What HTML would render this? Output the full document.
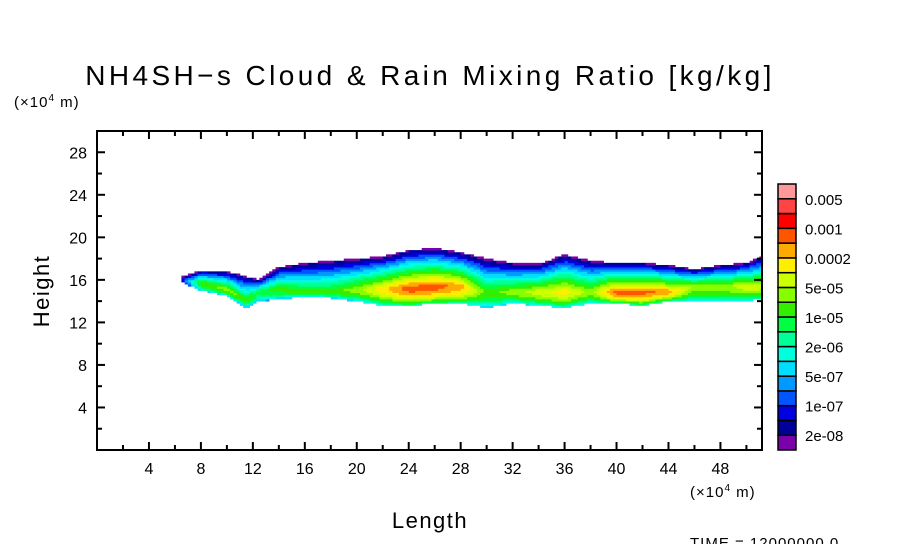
<!DOCTYPE html>
<html><head><meta charset="utf-8"><style>
body{margin:0;background:#fff;}
svg{display:block;font-family:"Liberation Sans",sans-serif;}
</style></head><body>
<svg id="chart" width="904" height="544" viewBox="0 0 904 544">
<rect width="904" height="544" fill="#fff"/>
<text x="430" y="85" font-size="28" letter-spacing="3.4" text-anchor="middle">NH4SH−s Cloud &amp; Rain Mixing Ratio [kg/kg]</text>
<text x="14" y="107" font-size="15" letter-spacing="1">(×10<tspan dy="-6" font-size="10">4</tspan><tspan dy="6"> m)</tspan></text>
<text x="690" y="497" font-size="15" letter-spacing="1">(×10<tspan dy="-6" font-size="10">4</tspan><tspan dy="6"> m)</tspan></text>
<text x="430" y="528" font-size="22" letter-spacing="1.5" text-anchor="middle">Length</text>
<text transform="translate(49,291) rotate(-90)" font-size="22" letter-spacing="1.5" text-anchor="middle">Height</text>
<text x="690" y="548" font-size="15" letter-spacing="1">TIME =  12000000.0</text>
<g id="cells"></g>
<g id="axes"></g>
<g id="cbar"></g>
</svg>
<script>
// Column profile data (x in 10^4 m, heights in 10^4 m)
const colX    = [6.5,8,10,11.5,12.5,14,16,18,20,22,24,26,28,30,32,34,36,38,40,42,44,46,48,50,51.2];
const colTop  = [16.3,16.9,16.8,16.3,16.0,17.2,17.6,17.8,18.0,18.2,18.8,19.0,18.6,18.0,17.6,17.5,18.4,17.8,17.6,17.6,17.4,17.0,17.4,17.6,18.2];
const colBot  = [15.8,15.0,14.5,13.4,14.0,14.2,14.4,14.3,14.0,13.6,13.6,13.8,13.8,13.4,13.8,13.6,13.4,13.8,13.8,13.6,14.0,14.0,14.0,14.0,14.2];
const colPeak = [2,9,10,9,8,9,9,9,10,12,14,14,13,9,10,11,12,10,14,14,13,10,10,11,11];
const colCore = [16,15.8,15.2,14.2,15,15.3,15,15,15.2,15.3,15.3,15.5,15.5,15,15,15,15,15,15,15,15,15.5,15.5,15.5,15.5];
const levelColors = ['#7a00aa','#000099','#0000e0','#0055ff','#0099ff','#00ddff','#00ffdd','#00ff99','#00ff44','#33ee00','#88ff00','#ccff00','#ffee00','#ffaa00','#ff5500','#ff0000','#ff4444','#ff9999'];
const levelLabels = ['2e-08','1e-07','5e-07','2e-06','1e-05','5e-05','0.0002','0.001','0.005'];
const xTicks = [4,8,12,16,20,24,28,32,36,40,44,48];
const yTicks = [4,8,12,16,20,24,28];

const NS='http://www.w3.org/2000/svg';
const X0=97,X1=762,Y0=450,Y1=131,XMAX=51.2,YMAX=30;
const sx=v=>X0+v/XMAX*(X1-X0);
const sy=v=>Y0-v/YMAX*(Y0-Y1);
function mk(tag,attrs,parent){const e=document.createElementNS(NS,tag);for(const k in attrs)e.setAttribute(k,attrs[k]);parent.appendChild(e);return e;}
function interp(arr,x){
  if(x<=colX[0])return arr[0];
  for(let i=1;i<colX.length;i++){if(x<=colX[i]){const t=(x-colX[i-1])/(colX[i]-colX[i-1]);return arr[i-1]+t*(arr[i]-arr[i-1]);}}
  return arr[arr.length-1];
}
const cells=document.getElementById('cells');
const dx=0.25,dh=0.2;
for(let x=colX[0];x<XMAX;x+=dx){
  const xc=x+dx/2;
  const top=interp(colTop,xc),bot=interp(colBot,xc),pk=interp(colPeak,xc),core=interp(colCore,xc);
  for(let h=13;h<19.4;h+=dh){
    const hc=h+dh/2;
    if(hc>top||hc<bot)continue;
    let lv;
    if(hc>=core){const u=(hc-core)/Math.max(top-core,0.1);lv=pk*Math.pow(1-u,0.95);}
    else{const u=(core-hc)/Math.max(core-bot,0.1);lv=pk*(1-0.5*u*u);}
    lv=Math.max(0,Math.min(17,Math.round(lv)));
    const r=mk('rect',{x:sx(x).toFixed(2),y:sy(h+dh).toFixed(2),width:(sx(x+dx)-sx(x)+0.4).toFixed(2),height:(sy(h)-sy(h+dh)+0.4).toFixed(2),fill:levelColors[lv]},cells);
    
    
  }
}
const axes=document.getElementById('axes');
const frame=mk('rect',{x:X0,y:Y1,width:X1-X0,height:Y0-Y1,fill:'none',stroke:'#000','stroke-width':2},axes);


for(let v=2;v<XMAX;v+=2){
  const L=(v%4===0)?8:5;
  mk('line',{x1:sx(v),x2:sx(v),y1:Y0,y2:Y0-L,stroke:'#000','stroke-width':2},axes);
  mk('line',{x1:sx(v),x2:sx(v),y1:Y1,y2:Y1+L,stroke:'#000','stroke-width':2},axes);
}
for(let v=2;v<YMAX;v+=2){
  const L=(v%4===0)?8:5;
  mk('line',{x1:X0,x2:X0+L,y1:sy(v),y2:sy(v),stroke:'#000','stroke-width':2},axes);
  mk('line',{x1:X1,x2:X1-L,y1:sy(v),y2:sy(v),stroke:'#000','stroke-width':2},axes);
}
xTicks.forEach(v=>{const t=mk('text',{x:sx(v),y:Y0+24,'font-size':16,'text-anchor':'middle'},axes);t.textContent=v;
  
  });
yTicks.forEach(v=>{const t=mk('text',{x:X0-10,y:sy(v)+6,'font-size':16,'text-anchor':'end'},axes);t.textContent=v;
  
  });
const cbar=document.getElementById('cbar');
const CB_X=778,CB_W=18,CB_TOP=184,CB_BOT=450,bh=(CB_BOT-CB_TOP)/levelColors.length;
levelColors.forEach((c,i)=>{
  const r=mk('rect',{x:CB_X,y:CB_BOT-(i+1)*bh,width:CB_W,height:bh,fill:c,stroke:'#000','stroke-width':1.5},cbar);
  
  
});
levelLabels.forEach((s,i)=>{
  const t=mk('text',{x:CB_X+CB_W+9,y:CB_BOT-(2*i+1)*bh+6,'font-size':15},cbar);t.textContent=s;
  
  
});
</script>
</body></html>
